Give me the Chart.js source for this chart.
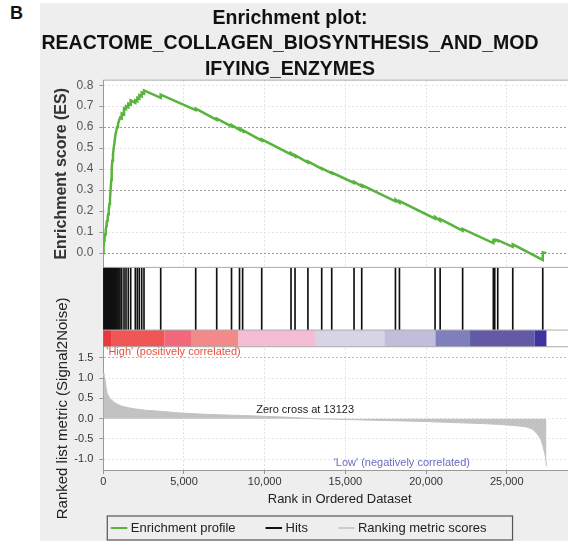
<!DOCTYPE html>
<html>
<head>
<meta charset="utf-8">
<script src="https://cdn.jsdelivr.net/npm/chart.js@4.4.0/dist/chart.umd.min.js"></script>
<style>
  html, body { margin: 0; padding: 0; overflow: hidden; background: #fff; }
  #panel { position: absolute; left: 40px; top: 3px; width: 540px; height: 545px; background: #eeeeee; }
  #tag { position: absolute; left: 10px; top: 3px; font: bold 18px "Liberation Sans", Arial, sans-serif; color: #111; }
  #plot { position: absolute; left: 0; top: 0; }
</style>
</head>
<body>
<div id="panel"></div>
<div id="tag">B</div>
<canvas id="plot" width="576" height="541"></canvas>
<script>
const FONT = '"Liberation Sans", Arial, sans-serif';

// running enrichment score (rank in list, ES)
const esRanks = [0, 18, 45, 62, 90, 118, 150, 190, 211, 240, 273, 300, 330, 353, 385, 415, 450, 496, 520, 558, 600, 644, 690, 744, 800, 849, 910, 973, 1035,
  1140, 1140, 1283, 1283, 1407, 1407, 1549, 1549, 1698, 1698, 1983, 1983, 2107, 2107, 2231, 2231, 2380, 2380, 2522, 2522,
  3557, 3557, 5726, 5726, 7027, 7027, 7945, 7945, 8440, 8440, 8633, 8633, 9816, 9816, 11632, 11632, 11880, 11880,
  12679, 12679, 13534, 13534, 14154, 14154, 15536, 15536, 16013, 16013, 18102, 18102, 18350, 18350, 20556, 20556,
  20872, 20872, 22266, 22266, 24168, 24168, 24255, 24255, 24441, 24441, 25371, 25371, 27230, 27230, 27459];
const esScores = [0, 0.03, 0.06, 0.07, 0.075, 0.09, 0.11, 0.13, 0.15, 0.155, 0.17, 0.185, 0.19, 0.21, 0.235, 0.26, 0.30, 0.35, 0.40, 0.44, 0.47, 0.50, 0.525, 0.56, 0.58, 0.60, 0.615, 0.63, 0.645,
  0.642, 0.665, 0.660, 0.690, 0.686, 0.700, 0.695, 0.712, 0.707, 0.728, 0.716, 0.728, 0.724, 0.740, 0.736, 0.752, 0.747, 0.765, 0.760, 0.775,
  0.740, 0.755, 0.681, 0.688, 0.635, 0.641, 0.604, 0.610, 0.587, 0.593, 0.581, 0.586, 0.536, 0.542, 0.470, 0.476, 0.461, 0.467,
  0.431, 0.437, 0.401, 0.404, 0.380, 0.384, 0.334, 0.340, 0.318, 0.324, 0.247, 0.255, 0.240, 0.248, 0.164, 0.172,
  0.154, 0.162, 0.107, 0.115, 0.048, 0.060, 0.058, 0.064, 0.058, 0.062, 0.030, 0.042, -0.032, 0.004, 0.0];

// positions of the gene set members in the ranked list
const hitRanks = [18, 45, 62, 90, 118, 150, 190, 211, 240, 273, 300, 330, 353, 385, 415, 450, 496, 520, 558, 600, 644, 690, 744, 800, 849, 910, 973, 1035,
  1140, 1283, 1407, 1549, 1698, 1983, 2107, 2231, 2380, 2522, 3557, 5726, 7027, 7945, 8440, 8633, 9816, 11632, 11880, 12679,
  13534, 14154, 15536, 16013, 18102, 18350, 20556, 20872, 22266, 24168, 24255, 24441, 25371, 27230];

// ranked list metric (Signal2Noise)
const metricRanks = [0, 40, 105, 167, 229, 320, 415, 560, 725, 900, 1140, 1549, 2000, 2584, 3619, 4600, 5683, 7000, 8500, 10000, 11500, 13123,
  14500, 16000, 18000, 20000, 22000, 23500, 24500, 25500, 26200, 26600, 26900, 27100, 27230, 27350, 27420, 27459];
const metricValues = [1.12, 1.05, 0.98, 0.79, 0.64, 0.56, 0.50, 0.44, 0.39, 0.35, 0.31, 0.27, 0.24, 0.21, 0.18, 0.145, 0.12, 0.10, 0.08, 0.06, 0.035, 0.0,
  -0.015, -0.03, -0.05, -0.07, -0.10, -0.12, -0.14, -0.17, -0.20, -0.26, -0.38, -0.50, -0.66, -0.85, -1.0, -1.17];

// colour bar under the hits
const bandEdges = [0, 527, 3799, 5484, 8378, 13119, 17413, 20580, 22724, 26727, 27459];
const bandColors = ['#e8383d', '#f05656', '#f0687a', '#f38a8a', '#f5bcd6', '#d9d3e6', '#c3bddc', '#7f7fbe', '#625aa6', '#3f33a0'];

// axis ticks
const rankTicks = [0, 5000, 10000, 15000, 20000, 25000];
const esTicks = [0, 0.1, 0.2, 0.3, 0.4, 0.5, 0.6, 0.7, 0.8];
const esGridDark = [0.6, 0.3, 0.0];
const metricTicks = [-1.0, -0.5, 0, 0.5, 1.0, 1.5];

const zeroCross = 13123;
const xMax = 29290;

const green = '#58b43c';
const legendColors = [green, '#111111', '#cccccc'];

const toPoints = (xs, ys) => xs.map((x, i) => ({ x: x, y: ys[i] }));
const fmt1 = v => (Math.abs(v) < 1e-9 ? '0.0' : v.toFixed(1));
const fixTicks = values => scale => { scale.ticks = values.map(v => ({ value: v })); };

const panelFrame = {
  id: 'panelFrame',
  beforeDraw(chart) {
    const { ctx, chartArea: a } = chart;
    ctx.save();
    ctx.fillStyle = '#fff';
    ctx.fillRect(a.left, a.top, a.right - a.left, a.bottom - a.top);
    ctx.restore();
  },
  beforeDatasetsDraw(chart) {
    const { ctx, chartArea: a, scales } = chart;
    const hits = scales.yHits, bar = scales.yBar, x = scales.x;
    ctx.save();
    // no vertical grid in the hits strip
    ctx.fillStyle = '#fff';
    ctx.fillRect(a.left + 1, hits.top, a.right - a.left, bar.bottom - hits.top);
    for (let i = 0; i < bandColors.length; i++) {
      const x0 = x.getPixelForValue(bandEdges[i]);
      const x1 = x.getPixelForValue(bandEdges[i + 1]);
      ctx.fillStyle = bandColors[i];
      ctx.fillRect(x0, bar.top, x1 - x0, bar.bottom - bar.top);
    }
    ctx.restore();
  },
  afterDatasetsDraw(chart) {
    const { ctx, chartArea: a, scales } = chart;
    const x = scales.x, ym = scales.yMetric;
    ctx.save();
    ctx.font = '11px ' + FONT;
    ctx.textBaseline = 'middle';
    ctx.textAlign = 'left';
    ctx.fillStyle = '#e8513f';
    ctx.fillText("'High' (positively correlated)", a.left + 3, ym.getPixelForValue(1.64));
    ctx.textAlign = 'center';
    ctx.fillStyle = '#222';
    ctx.fillText('Zero cross at ' + zeroCross, x.getPixelForValue(zeroCross) - 10, ym.getPixelForValue(0.22));
    ctx.fillStyle = '#6a6ac4';
    ctx.fillText("'Low' (negatively correlated)", x.getPixelForValue(18500), ym.getPixelForValue(-1.10));
    ctx.restore();
  },
  afterDraw(chart) {
    const { ctx, chartArea: a, scales } = chart;
    ctx.save();
    // panel separators
    ctx.strokeStyle = '#aaaaaa';
    ctx.lineWidth = 1;
    [scales.yES.top, scales.yHits.top, scales.yBar.top, scales.yBar.bottom].forEach(y => {
      ctx.beginPath();
      ctx.moveTo(a.left, y);
      ctx.lineTo(a.right, y);
      ctx.stroke();
    });

    // legend box
    const boxLeft = a.left + 4, boxTop = 516, boxH = 24, cy = boxTop + boxH / 2;
    ctx.font = '13px ' + FONT;
    ctx.textBaseline = 'middle';
    ctx.textAlign = 'left';
    let cx = boxLeft + 3.5;
    chart.data.datasets.forEach((ds, i) => {
      ctx.strokeStyle = legendColors[i];
      ctx.lineWidth = 2;
      ctx.beginPath();
      ctx.moveTo(cx, cy);
      ctx.lineTo(cx + 16.5, cy);
      ctx.stroke();
      ctx.fillStyle = '#222';
      ctx.fillText(ds.label, cx + 20, cy);
      cx += 20 + ctx.measureText(ds.label).width + 30;
    });
    ctx.strokeStyle = '#555';
    ctx.lineWidth = 1.2;
    ctx.strokeRect(boxLeft, boxTop, cx - 30 + 26 - boxLeft, boxH);
    ctx.restore();
  }
};

const yWidth = s => { s.width = 99.3; };

new Chart(document.getElementById('plot'), {
  type: 'line',
  data: {
    datasets: [
      {
        label: 'Enrichment profile',
        data: toPoints(esRanks, esScores),
        yAxisID: 'yES',
        borderColor: green,
        borderWidth: 2.5,
        pointRadius: 0,
        fill: false
      },
      {
        type: 'bar',
        label: 'Hits',
        data: hitRanks.map(r => ({ x: r, y: 1 })),
        yAxisID: 'yHits',
        backgroundColor: '#111',
        barThickness: 1
      },
      {
        label: 'Ranking metric scores',
        data: toPoints(metricRanks, metricValues),
        yAxisID: 'yMetric',
        borderColor: '#c2c2c2',
        backgroundColor: '#c2c2c2',
        borderWidth: 1,
        pointRadius: 0,
        fill: 'origin'
      }
    ]
  },
  options: {
    responsive: false,
    animation: false,
    layout: { padding: { left: 4, right: 0, top: 0, bottom: 31.2 } },
    plugins: {
      legend: { display: false },
      tooltip: { enabled: false },
      title: {
        display: true,
        text: ['Enrichment plot:', 'REACTOME_COLLAGEN_BIOSYNTHESIS_AND_MOD', 'IFYING_ENZYMES'],
        color: '#111',
        font: { family: FONT, size: 19.5, weight: 'bold', lineHeight: 1.3 },
        padding: { top: 6, bottom: -1.9 }
      }
    },
    scales: {
      x: {
        type: 'linear',
        position: 'bottom',
        min: 0,
        max: xMax,
        bounds: 'data',
        offset: false,
        afterBuildTicks: fixTicks(rankTicks),
        grid: { color: '#e2e2e2', tickColor: '#999', tickLength: 4, offset: false },
        border: { color: '#9a9a9a', dash: [2, 2] },
        ticks: { maxRotation: 0, autoSkip: false, padding: 1, color: '#333', font: { family: FONT, size: 11 } },
        title: { display: true, text: 'Rank in Ordered Dataset', color: '#222', font: { family: FONT, size: 13 }, padding: { top: 2, bottom: 3 } }
      },
      yMetric: {
        type: 'linear',
        position: 'left',
        stack: 'panels',
        stackWeight: 123.3,
        min: -1.264,
        max: 1.773,
        bounds: 'data',
        afterFit: yWidth,
        afterBuildTicks: fixTicks(metricTicks),
        grid: { color: c => (Math.abs(c.tick.value - 1.5) < 1e-6 ? '#b8b8b8' : '#e6e6e6'), tickColor: '#999', tickLength: 4 },
        border: { color: '#9a9a9a', dash: [2, 2] },
        ticks: { autoSkip: false, callback: fmt1, padding: 6, color: '#333', font: { family: FONT, size: 11 } },
        title: { display: true, text: 'Ranked list metric (Signal2Noise)', color: '#222', font: { family: FONT, size: 15 }, padding: { top: 49.5, bottom: 0 } }
      },
      yBar: {
        type: 'linear',
        position: 'left',
        stack: 'panels',
        stackWeight: 16.7,
        min: 0,
        max: 1,
        bounds: 'data',
        afterFit: yWidth,
        grid: { display: false },
        border: { color: '#9a9a9a' },
        ticks: { display: false }
      },
      yHits: {
        type: 'linear',
        position: 'left',
        stack: 'panels',
        stackWeight: 62.7,
        min: 0,
        max: 1,
        bounds: 'data',
        afterFit: yWidth,
        grid: { display: false },
        border: { color: '#9a9a9a' },
        ticks: { display: false }
      },
      yES: {
        type: 'linear',
        position: 'left',
        stack: 'panels',
        stackWeight: 187.3,
        min: -0.068,
        max: 0.824,
        bounds: 'data',
        afterFit: yWidth,
        afterBuildTicks: fixTicks(esTicks),
        grid: { color: c => (esGridDark.some(v => Math.abs(c.tick.value - v) < 1e-6) ? '#9a9a9a' : '#e6e6e6'), tickColor: '#999', tickLength: 4 },
        border: { color: '#9a9a9a', dash: [2, 2] },
        ticks: { autoSkip: false, callback: fmt1, padding: 6, color: '#555', font: { family: FONT, size: 12 } },
        title: { display: true, text: 'Enrichment score (ES)', color: '#333', font: { family: FONT, size: 16, weight: 'bold' }, padding: { top: 48.4, bottom: 0 } }
      }
    }
  },
  plugins: [panelFrame]
});
</script>
</body>
</html>
